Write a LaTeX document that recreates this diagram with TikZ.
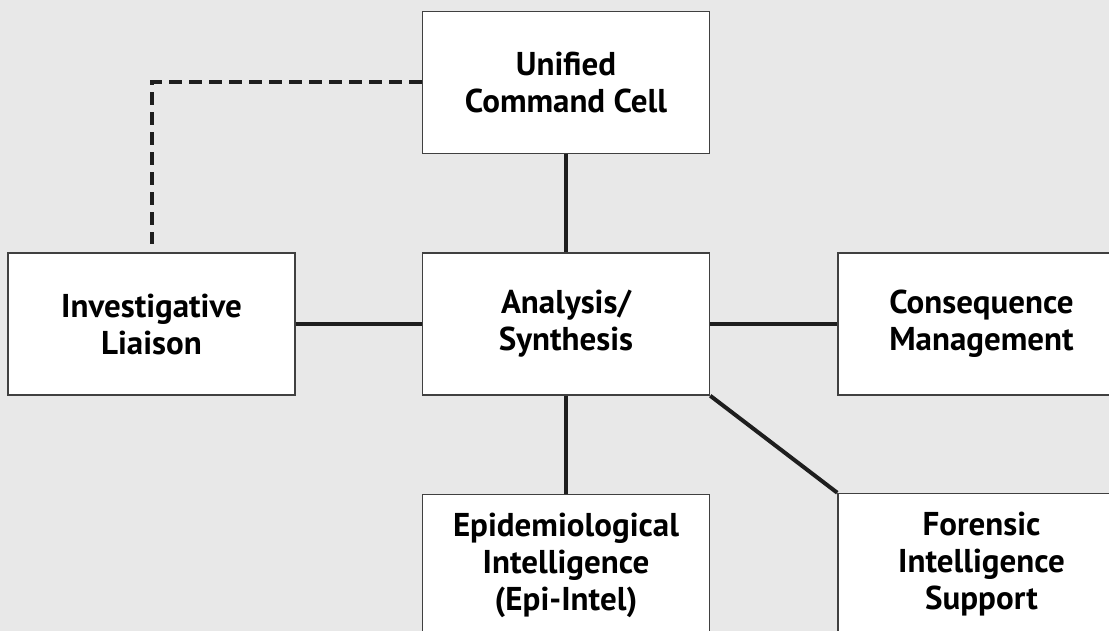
\documentclass[tikz,border=0pt]{standalone}
\usepackage{fontspec}
\setmainfont{PT Sans}
\usepackage{xcolor}
\usetikzlibrary{positioning}
\definecolor{panelgray}{HTML}{E8E8E8}
\definecolor{inkblack}{HTML}{1E1E1E}

\begin{document}
\begin{tikzpicture}[x=1pt, y=1pt, node distance=98pt and 126pt,
    every node/.style={font=\fontsize{33}{37}\selectfont\bfseries},
    unitbox/.style={draw=inkblack!85, line width=1.5pt, rectangle, fill=white, minimum width=287pt, minimum height=142pt, align=center, inner sep=0pt},
    link/.style={draw=inkblack, line width=4pt}]
        % Frame
        \useasboundingbox (0,0) rectangle (1109,-631);
        \clip (0,0) rectangle (1109,-631);
        \fill[panelgray] (0,0) rectangle (1109,-631);
        % Components
        \node[unitbox] (analysis) at (566,-324) {Analysis/\\Synthesis};
        \node[unitbox, above=of analysis] (command) {Unified\\Command Cell};
        \node[unitbox, left=of analysis] (liaison) {Investigative\\Liaison};
        \node[unitbox, right=127pt of analysis] (consequence) {Consequence\\Management};
        \node[unitbox, below=of analysis] (epiintel) {Epidemiological\\Intelligence\\(Epi-Intel)};
        \node[unitbox, below=97pt of consequence] (forensic) {Forensic\\Intelligence\\Support};
        % Links
        \draw[link] (command) -- (analysis);
        \draw[link] (liaison) -- (analysis);
        \draw[link] (analysis) -- (consequence);
        \draw[link] (analysis) -- (epiintel);
        \draw[link] (analysis.south east) -- (forensic.north west);
        \draw[link, dash pattern=on 12.7pt off 7.3pt, shorten >=8pt] (command.west) -| (liaison.north);
    \end{tikzpicture}
\end{document}
